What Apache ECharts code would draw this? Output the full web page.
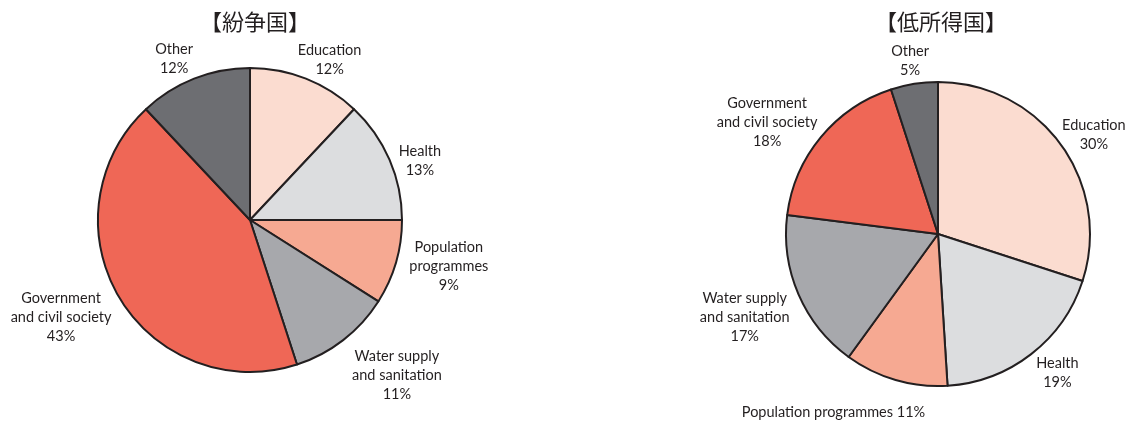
<!DOCTYPE html>
<html lang="ja">
<head>
<meta charset="UTF-8" />
<script src="https://cdn.jsdelivr.net/npm/echarts@6/dist/echarts.min.js"></script>
<style>
  html, body { margin: 0; padding: 0; background: #fff; }
  #main { width: 1130px; height: 421px; }
</style>
</head>
<body>
<div id="main"></div>
<script>
  // data
  var titles = ['【紛争国】', '【低所得国】'];
  var categories = ['Education', 'Health', 'Population programmes', 'Water supply and sanitation', 'Government and civil society', 'Other'];
  var conflictValues = [12, 13, 9, 11, 43, 12];
  var lowIncomeValues = [30, 19, 11, 17, 18, 5];
  // label text, {c} is replaced by the value
  var conflictLabels = ['Education\n{c}%', 'Health\n{c}%', 'Population\nprogrammes\n{c}%', 'Water supply\nand sanitation\n{c}%', 'Government\nand civil society\n{c}%', 'Other\n{c}%'];
  var lowIncomeLabels = ['Education\n{c}%', 'Health\n{c}%', 'Population programmes {c}%', 'Water supply\nand sanitation\n{c}%', 'Government\nand civil society\n{c}%', 'Other\n{c}%'];

  // small hand nudges [dx, dy] for each label
  var conflictNudge = [[11, 13], [1, 14], [4, -10], [20, -8], [-4, -12], [-9, 8]];
  var lowIncomeNudge = [[-1, 15], [6, -7], [-51, -6], [-1, 0], [-6, 25], [0, 3]];

  var colors = ['#fbdcd0', '#dcdddf', '#f6a992', '#a7a8ac', '#ef6756', '#6d6e72'];
  var R = 152;
  var GAP = 5;

  var chart = echarts.init(document.getElementById('main'));

  // put each label just outside its slice, centred on the mid angle
  function placeLabels(cx, cy, values, nudge) {
    var total = values.reduce(function (a, b) { return a + b; }, 0);
    return function (p) {
      var before = 0;
      for (var i = 0; i < p.dataIndex; i++) before += values[i];
      var a = (before + values[p.dataIndex] / 2) / total * Math.PI * 2;
      var ux = Math.sin(a), uy = -Math.cos(a);
      var hw = p.labelRect.width / 2, hh = p.labelRect.height / 2;
      var d = R + GAP + Math.abs(ux) * hw + Math.abs(uy) * hh;
      var n = nudge[p.dataIndex];
      return { x: cx + ux * d + n[0], y: cy + uy * d + n[1], align: 'center', verticalAlign: 'middle' };
    };
  }

  function makeSeries(cx, cy, values, labels, nudge) {
    return {
      type: 'pie',
      center: [cx, cy],
      radius: R,
      startAngle: 90,
      clockwise: true,
      avoidLabelOverlap: false,
      silent: true,
      data: categories.map(function (c, i) {
        return { name: c, value: values[i] };
      }),
      itemStyle: { borderColor: '#231f20', borderWidth: 2 },
      label: {
        show: true,
        position: 'outside',
        align: 'center',
        fontFamily: 'Lato',
        fontSize: 14.5,
        lineHeight: 19,
        color: '#231f20',
        formatter: function (p) { return labels[p.dataIndex].replace('{c}', p.value); }
      },
      labelLine: { show: false },
      labelLayout: placeLabels(cx, cy, values, nudge),
      emphasis: { disabled: true }
    };
  }

  chart.setOption({
    animation: false,
    color: colors,
    title: [
      { text: titles[0], left: 250, top: 6, textAlign: 'center',
        textStyle: { fontFamily: 'Noto Sans CJK JP', fontSize: 22, fontWeight: 'normal', color: '#231f20' } },
      { text: titles[1], left: 936, top: 6, textAlign: 'center',
        textStyle: { fontFamily: 'Noto Sans CJK JP', fontSize: 22, fontWeight: 'normal', color: '#231f20' } }
    ],
    series: [
      makeSeries(250, 220, conflictValues, conflictLabels, conflictNudge),
      makeSeries(938, 234, lowIncomeValues, lowIncomeLabels, lowIncomeNudge)
    ]
  });
</script>
</body>
</html>
